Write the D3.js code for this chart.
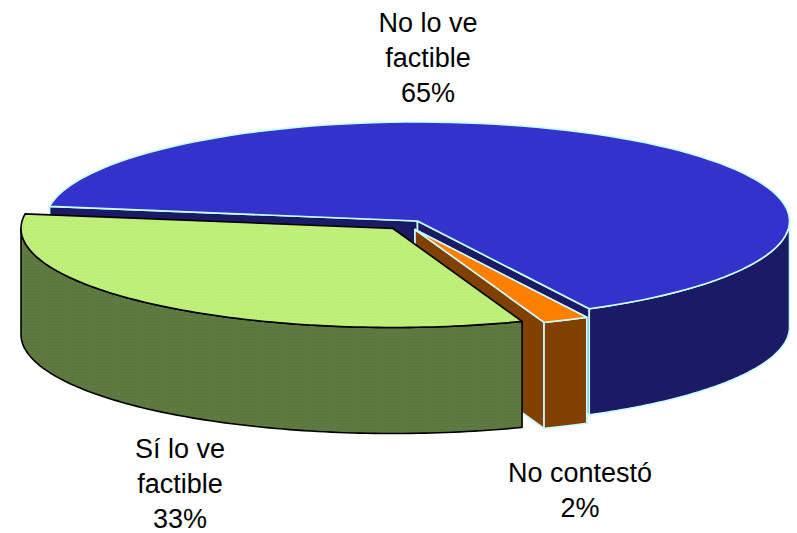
<!DOCTYPE html>
<html><head><meta charset="utf-8">
<script src="https://cdn.jsdelivr.net/npm/d3@7/dist/d3.min.js"></script>
<style>html,body{margin:0;background:#fff}svg{display:block}text{font-family:"Liberation Sans",Arial,sans-serif;font-size:27px;fill:#000;text-anchor:middle}</style>
</head><body><svg id="c" width="797" height="533"></svg>
<script>
const categories = ["No lo ve factible", "No contestó", "Sí lo ve factible"];
const shares = [65, 2, 33];
const labelLines = [["No lo ve", "factible", "65%"], ["No contestó", "2%"], ["Sí lo ve", "factible", "33%"]];

const startDeg = 278.5, rx = 372, ry = 99, depth = 106;
const apex = [[417.5, 221], [415, 229.5], [393, 228.5]];
const labelAt = [[428, 32], [580, 482], [180, 458]];
const lineGap = 35;
const topFill = ["#3333cc", "#ff8000", "url(#g1)"];
const side = ["#1a1a66", "#804000", "url(#g2)"];
const edge = ["#c8ffff", "#c8ffff", "#000"];

const svg = d3.select("#c");
const defs = svg.append("defs");
[["g1", "#bdee78", "#c6f384"], ["g2", "#5f7a40", "#57713a"]].forEach(([id, a, b]) => {
  const p = defs.append("pattern").attr("id", id).attr("width", 3).attr("height", 3).attr("patternUnits", "userSpaceOnUse");
  p.append("rect").attr("width", 3).attr("height", 3).attr("fill", a);
  p.append("rect").attr("width", 1).attr("height", 1).attr("fill", b);
});

const tau = 2 * Math.PI, rad = d => d * Math.PI / 180;
const slices = d3.pie().sort(null).startAngle(rad(startDeg)).endAngle(rad(startDeg) + tau)(shares);
const line = d3.line();
const pt = (i, a, dz = 0) => [apex[i][0] + rx * Math.sin(a), apex[i][1] - ry * Math.cos(a) + dz];
const arcPts = (i, a0, a1, dz = 0) => d3.range(0, 101).map(k => pt(i, a0 + (a1 - a0) * k / 100, dz));
const face = (pts, i, sw = 1.6) => svg.append("path").attr("d", line(pts) + "Z")
  .attr("fill", side[i]).attr("stroke", edge[i]).attr("stroke-width", sw).attr("stroke-linejoin", "round");
const extrude = (i, pts) => face(pts.concat(pts.map(p => [p[0], p[1] + depth]).reverse()), i);

function frontRange(a0, a1) {
  const out = [];
  for (let k = 0; k < 2; k++) {
    const lo = Math.max(a0, rad(90) + k * tau), hi = Math.min(a1, rad(270) + k * tau);
    if (hi > lo) out.push([lo, hi]);
  }
  return out;
}

slices.forEach((s, i) => {
  const c = apex[i];
  const a = s.startAngle, b = s.endAngle;
  if (i !== 2) {
    extrude(i, [c, pt(i, a)]);
    extrude(i, [c, pt(i, b)]);
  }
  frontRange(a, b).forEach(([lo, hi]) => extrude(i, arcPts(i, lo, hi)));
  svg.append("path").attr("d", line([c, ...arcPts(i, a, b)]) + "Z")
    .attr("fill", topFill[i]).attr("stroke", edge[i]).attr("stroke-width", 1.6).attr("stroke-linejoin", "round");
});

labelLines.forEach((ls, i) => {
  const t = svg.append("text").attr("aria-label", categories[i]);
  ls.forEach((l, k) => t.append("tspan").attr("x", labelAt[i][0]).attr("y", labelAt[i][1] + k * lineGap).text(l));
});
</script></body></html>
